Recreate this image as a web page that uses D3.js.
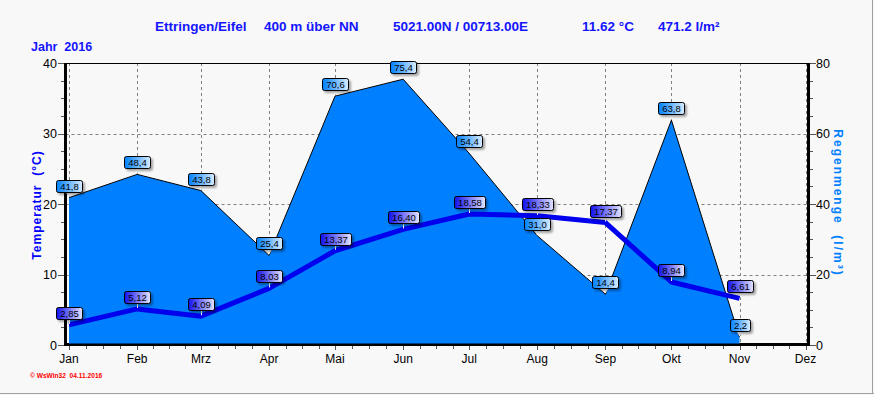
<!DOCTYPE html>
<html>
<head>
<meta charset="utf-8">
<script src="https://cdn.jsdelivr.net/npm/d3@7"></script>
<style>
html,body{margin:0;padding:0;background:#f8f8f8;}
svg{display:block;}
</style>
</head>
<body>
<svg id="chart" width="874" height="395"></svg>
<script>
// ---- data ----
const months = ["Jan","Feb","Mrz","Apr","Mai","Jun","Jul","Aug","Sep","Okt","Nov","Dez"];
const dataMonths = ["Jan","Feb","Mrz","Apr","Mai","Jun","Jul","Aug","Sep","Okt","Nov"];
const rain = [41.8, 48.4, 43.8, 25.4, 70.6, 75.4, 54.4, 31.0, 14.4, 63.8, 2.2];
const temp = [2.85, 5.12, 4.09, 8.03, 13.37, 16.40, 18.58, 18.33, 17.37, 8.94, 6.61];
const tempTicks = [0, 10, 20, 30, 40];
const rainTicks = [0, 20, 40, 60, 80];
const titleParts = ["Ettringen/Eifel", "400 m über NN", "5021.00N / 00713.00E", "11.62 °C", "471.2 l/m²"];
const yearLabel = "Jahr  2016";
const footer = "© WsWin32  04.11.2016";

(function () {
const svg = d3.select("#chart");
const W = 874, H = 395;
const pL = 65.5, pR = 808.5, pT = 63, pB = 345;

svg.append("rect").attr("width", W).attr("height", H).attr("fill", "#f8f8f8");

const defs = svg.append("defs");
const sh = defs.append("filter").attr("id","shadow").attr("x","-30%").attr("y","-50%").attr("width","170%").attr("height","220%");
sh.append("feDropShadow").attr("dx",2).attr("dy",2).attr("stdDeviation",1.2).attr("flood-color","#000").attr("flood-opacity",0.35);
const gRain = defs.append("linearGradient").attr("id","gRain");
gRain.append("stop").attr("offset","0%").attr("stop-color","#0080ff");
gRain.append("stop").attr("offset","100%").attr("stop-color","#d8ecff");
const gTemp = defs.append("linearGradient").attr("id","gTemp");
gTemp.append("stop").attr("offset","0%").attr("stop-color","#1010f0");
gTemp.append("stop").attr("offset","100%").attr("stop-color","#e4e4ff");

// scales
const monthDate = i => new Date(2016, i, 1);
const x = d3.scaleTime().domain([monthDate(0), monthDate(11)]).range([69, 805.5]);
const yT = d3.scaleLinear().domain([0, 40]).range([pB, pT]);
const yR = d3.scaleLinear().domain([0, 80]).range([pB, pT]);

// grid
const grid = svg.append("g").attr("stroke", "#808080").attr("stroke-width", 1).attr("stroke-dasharray", "3,3").attr("fill","none");
months.forEach((m, i) => {
  const xx = Math.round(x(monthDate(i))) + 0.5;
  grid.append("line").attr("x1", xx).attr("x2", xx).attr("y1", pT).attr("y2", pB);
});
tempTicks.slice(1, -1).forEach(t => {
  const yy = Math.round(yT(t)) + 0.5;
  grid.append("line").attr("x1", pL).attr("x2", pR).attr("y1", yy).attr("y2", yy);
});

// bottom axis line (under the area)
svg.append("line").attr("x1", pL - 1.5).attr("x2", pR + 1.5).attr("y1", pB - 0.5).attr("y2", pB - 0.5)
  .attr("stroke", "#000").attr("stroke-width", 3);

// rain area
const area = d3.area().x((d, i) => x(monthDate(i))).y0(pB - 1.5).y1(d => yR(d));
svg.append("path").datum(rain).attr("d", area).attr("fill", "#0080ff");
const rline = d3.line().x((d, i) => x(monthDate(i))).y(d => yR(d));
svg.append("path").datum(rain).attr("d", rline).attr("fill", "none").attr("stroke", "#000").attr("stroke-width", 1);

// top frame line
svg.append("line").attr("x1", pL).attr("x2", pR).attr("y1", pT + 0.5).attr("y2", pT + 0.5).attr("stroke", "#000").attr("stroke-width", 1);
// left/right axis lines
svg.append("line").attr("x1", pL).attr("x2", pL).attr("y1", pT).attr("y2", pB + 1).attr("stroke", "#000").attr("stroke-width", 3);
svg.append("line").attr("x1", pR).attr("x2", pR).attr("y1", pT).attr("y2", pB + 1).attr("stroke", "#000").attr("stroke-width", 3);

// axis ticks
const axG = svg.append("g").attr("stroke", "#555").attr("stroke-width", 1);
d3.range(0, 40.01, 2.5).forEach(t => {
  const yy = Math.round(yT(t)) + 0.5;
  const major = t % 10 === 0;
  axG.append("line").attr("x1", major ? 58 : 61).attr("x2", 64).attr("y1", yy).attr("y2", yy);
  axG.append("line").attr("x1", 810).attr("x2", major ? 816 : 813).attr("y1", yy).attr("y2", yy);
});
for (let i = 0; i < 11; i++) {
  const a = x(monthDate(i)), b = x(monthDate(i + 1));
  for (let k = 0; k < 4; k++) {
    const xx = Math.round(a + (b - a) * k / 4) + 0.5;
    axG.append("line").attr("x1", xx).attr("x2", xx).attr("y1", pB + 1).attr("y2", pB + (k === 0 ? 5 : 4));
  }
}
{
  const xx = Math.round(x(monthDate(11))) + 0.5;
  axG.append("line").attr("x1", xx).attr("x2", xx).attr("y1", pB + 1).attr("y2", pB + 5);
}

const tickFont = "'Liberation Sans', Arial, sans-serif";
tempTicks.forEach(t => {
  svg.append("text").attr("x", 57).attr("y", yT(t) + 4.5).attr("text-anchor", "end")
    .attr("font-family", tickFont).attr("font-size", 12.5).attr("fill", "#000").text(t);
});
rainTicks.forEach(t => {
  svg.append("text").attr("x", 816).attr("y", yR(t) + 4.5).attr("text-anchor", "start")
    .attr("font-family", tickFont).attr("font-size", 12.5).attr("fill", "#000").text(t);
});
months.forEach((m, i) => {
  svg.append("text").attr("x", x(monthDate(i))).attr("y", 363).attr("text-anchor", "middle")
    .attr("font-family", tickFont).attr("font-size", 12).attr("fill", "#000").text(m);
});

// temperature line
const tline = d3.line().x((d, i) => x(monthDate(i))).y(d => yT(d));
svg.append("path").datum(temp).attr("d", tline).attr("fill", "none").attr("stroke", "#0000ee")
  .attr("stroke-width", 5).attr("stroke-linejoin", "round");

// labels
function label(px, py, txt, grad, pointer) {
  const g = svg.append("g");
  const t = g.append("text").attr("font-family", tickFont).attr("font-size", 9.5).attr("fill", "#000")
    .attr("text-anchor", "middle").text(txt);
  const tw = t.node().getComputedTextLength();
  const bw = Math.round(tw + 7), bh = 12;
  const bx = Math.round(px - bw / 2) + 0.5, byBottom = Math.round(py - 6) + 0.5;
  const by = byBottom - bh;
  if (pointer === "tri") {
    g.insert("path", "text").attr("d", `M${px - 3},${byBottom} L${px + 3},${byBottom} L${px},${byBottom + 5} Z`).attr("fill", "#fff");
  } else {
    g.insert("line", "text").attr("x1", Math.round(px) + 0.5).attr("x2", Math.round(px) + 0.5)
      .attr("y1", byBottom).attr("y2", py - 1).attr("stroke", "#fff").attr("stroke-width", 1);
  }
  g.insert("rect", "text").attr("x", bx).attr("y", by).attr("width", bw).attr("height", bh)
    .attr("rx", 2).attr("fill", `url(#${grad})`).attr("stroke", "#000").attr("stroke-width", 1)
    .attr("filter", "url(#shadow)");
  t.attr("x", bx + bw / 2).attr("y", by + 9.5);
}
rain.forEach((v, i) => label(x(monthDate(i)), yR(v), v.toFixed(1).replace(".", ","), "gRain", "tri"));
temp.forEach((v, i) => label(x(monthDate(i)), yT(v), v.toFixed(2).replace(".", ","), "gTemp", "line"));

// titles
const titleFont = "'Liberation Sans Narrow', 'Arial Narrow', 'Liberation Sans', sans-serif";
const titleX = [155, 264, 393, 582, 658];
titleParts.forEach((s, i) => {
  svg.append("text").attr("x", titleX[i]).attr("y", 31).attr("font-family", titleFont)
    .attr("font-weight", "bold").attr("font-size", 13.5).attr("fill", "#1414ff").text(s);
});
svg.append("text").attr("x", 31).attr("y", 51).attr("font-family", titleFont).attr("font-weight", "bold")
  .attr("font-size", 12.5).attr("fill", "#1414ff").style("white-space", "pre").text(yearLabel);

// axis titles
svg.append("text").attr("transform", "translate(40.5,205) rotate(-90)").attr("text-anchor", "middle")
  .attr("font-family", tickFont).attr("font-weight", "bold").attr("font-size", 12).attr("letter-spacing", 1)
  .attr("fill", "#0000ff").style("white-space", "pre").text("Temperatur  (°C)");
svg.append("text").attr("transform", "translate(833.5,203) rotate(90)").attr("text-anchor", "middle")
  .attr("font-family", tickFont).attr("font-weight", "bold").attr("font-size", 12).attr("letter-spacing", 2)
  .attr("fill", "#0080ff").style("white-space", "pre").text("Regenmenge  (l/m³)");

// footer
svg.append("text").attr("x", 30).attr("y", 378).attr("font-family", tickFont).attr("font-weight", "bold")
  .attr("font-size", 6.6).attr("fill", "#ff0000").style("white-space", "pre").text(footer);

// window border lines
svg.append("line").attr("x1", 0).attr("x2", W).attr("y1", 393.5).attr("y2", 393.5).attr("stroke", "#a0a0a0").attr("stroke-width", 1);
svg.append("line").attr("x1", 872.5).attr("x2", 872.5).attr("y1", 0).attr("y2", 394).attr("stroke", "#a0a0a0").attr("stroke-width", 1);
})();
</script>
</body>
</html>
